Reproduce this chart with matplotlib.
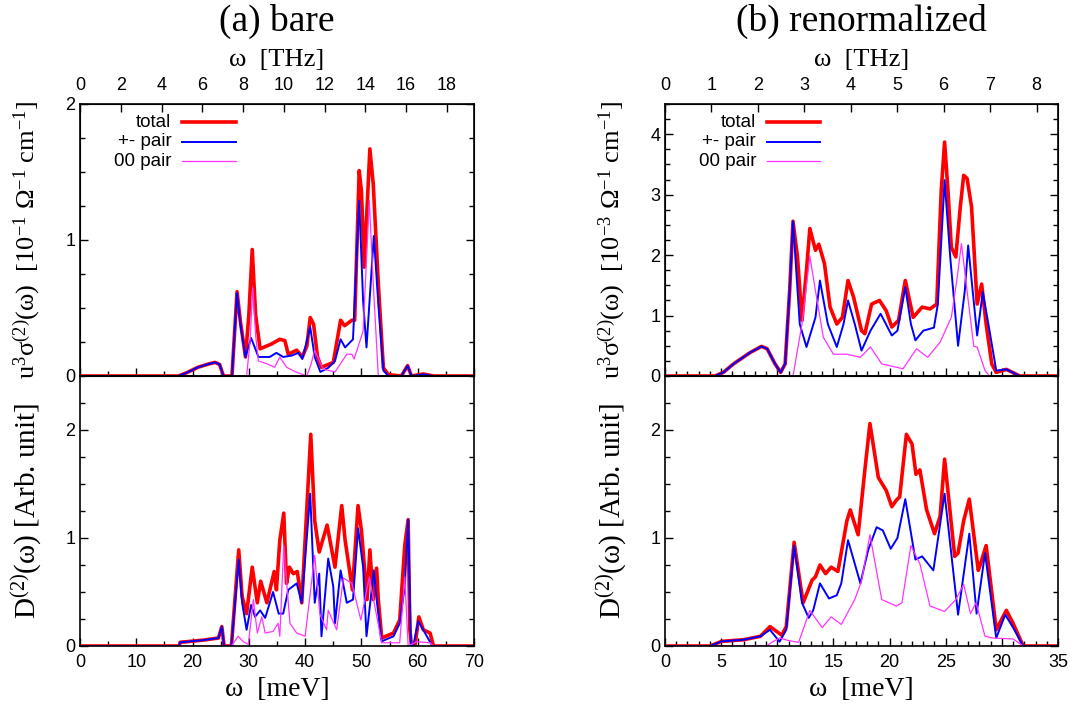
import numpy as np
import matplotlib
matplotlib.use("Agg")
from matplotlib import pyplot as plt
from matplotlib.ticker import MultipleLocator
from matplotlib.lines import Line2D

plt.rcParams['font.family'] = ['Liberation Sans', 'DejaVu Sans']
plt.rcParams['mathtext.fontset'] = 'custom'
plt.rcParams['mathtext.rm'] = 'Liberation Serif'
plt.rcParams['mathtext.it'] = 'Liberation Serif:italic'
plt.rcParams['mathtext.bf'] = 'Liberation Serif:bold'

SERIF = ['Liberation Serif', 'DejaVu Serif']
RED, BLUE, MAG = '#ff0000', '#0000ff', '#ff33ff'

# ---- (a) bare : conductivity, omega in meV ----
a_sig_tot_x = [0, 17.5, 19, 21, 23, 24, 24.8, 25.5, 27.0, 27.9, 28.5, 29.4, 30.0, 30.6, 31.2, 32.0, 34.0, 35.5,
               36.4, 37.0, 38.5, 39.5, 40.3, 40.9, 41.5, 42.2, 42.9, 45.0, 46.3, 47.0, 48.3, 48.8, 49.6, 50.0,
               50.5, 51.5, 52.1, 53.0, 53.9, 54.8, 57.1, 58.2, 58.9, 61.0, 62.8, 70]
a_sig_tot_y = [0, 0, 0.025, 0.065, 0.09, 0.10, 0.085, 0.0, 0.0, 0.62, 0.40, 0.14, 0.45, 0.93, 0.45, 0.20, 0.235,
               0.27, 0.26, 0.16, 0.19, 0.14, 0.22, 0.43, 0.38, 0.14, 0.064, 0.10, 0.41, 0.37, 0.41, 0.41, 1.51,
               1.36, 0.80, 1.67, 1.41, 0.68, 0.06, 0.01, 0.0, 0.076, 0.0, 0.015, 0.0, 0]
a_sig_pm_x = [0, 17.5, 19, 21, 23, 24, 24.8, 25.5, 27.0, 27.9, 28.5, 29.4, 30.4, 31.7, 33.7, 34.9, 36.1, 37.6,
              38.8, 39.5, 40.9, 41.7, 42.7, 44.1, 45.3, 46.3, 47.1, 48.5, 49.6, 50.3, 50.9, 52.2, 53.0, 53.9,
              54.8, 57.1, 58.2, 58.9, 61.0, 62.8, 70]
a_sig_pm_y = [0, 0, 0.025, 0.065, 0.09, 0.10, 0.085, 0.0, 0.0, 0.61, 0.38, 0.14, 0.28, 0.14, 0.14, 0.17, 0.14,
              0.15, 0.17, 0.125, 0.36, 0.14, 0.03, 0.06, 0.11, 0.27, 0.21, 0.27, 1.29, 0.55, 0.21, 1.03, 0.53,
              0.04, 0.0, 0.0, 0.076, 0.0, 0.012, 0.0, 0]
a_sig_00_x = [0, 29.6, 30.2, 30.7, 31.2, 31.7, 33.2, 34.6, 35.5, 36.7, 38.5, 40.3, 41.0, 41.7, 43.2, 45.3,
              47.4, 48.3, 48.7, 50.3, 51.4, 52.1, 53.0, 70]
a_sig_00_y = [0, 0, 0.25, 0.65, 0.30, 0.11, 0.09, 0.064, 0.14, 0.064, 0.027, 0.0, 0.08, 0.19, 0.05, 0.03,
              0.16, 0.16, 0.125, 0.33, 1.29, 0.68, 0.0, 0]

# ---- (a) bare : two-phonon DOS ----
a_dos_tot_x = [0, 17.6, 17.8, 20, 22, 24.6, 25.2, 25.6, 26.9, 28.2, 28.8, 29.6, 30.6, 31.5, 32.1, 33.2, 34.5,
               34.9, 35.5, 36.2, 36.7, 37.2, 37.9, 38.6, 39.4, 41.0, 41.7, 42.5, 43.9, 45.3, 46.5, 47.1, 48.4,
               49.4, 50.0, 51.0, 51.5, 52.1, 52.7, 53.0, 53.6, 55.7, 56.8, 57.7, 58.3, 58.6, 58.9, 59.5, 60.2,
               61.0, 62.2, 62.8, 70]
a_dos_tot_y = [0, 0, 0.034, 0.045, 0.055, 0.074, 0.18, 0.0, 0.0, 0.89, 0.46, 0.30, 0.73, 0.40, 0.60, 0.40, 0.69,
               0.52, 0.98, 1.23, 0.58, 0.73, 0.67, 0.69, 0.40, 1.96, 1.16, 0.87, 1.12, 0.73, 1.30, 0.98, 0.52,
               1.30, 1.07, 0.43, 0.89, 0.43, 0.72, 0.43, 0.074, 0.12, 0.24, 0.93, 1.17, 0.15, 0.0, 0.0, 0.27,
               0.15, 0.12, 0.0, 0]
a_dos_pm_x = [0, 17.6, 17.8, 20, 22, 24.6, 25.2, 25.6, 26.9, 28.2, 28.8, 29.6, 30.4, 31.1, 32.0, 32.9, 34.3,
              35.3, 36.1, 37.0, 38.5, 39.4, 40.9, 41.7, 42.5, 42.9, 44.1, 45.0, 45.3, 46.3, 47.4, 48.5, 49.4,
              50.3, 50.9, 52.2, 52.7, 53.6, 55.7, 56.8, 57.7, 58.3, 58.8, 59.2, 60.1, 61.3, 62.6, 70]
a_dos_pm_y = [0, 0, 0.034, 0.045, 0.055, 0.074, 0.18, 0.0, 0.0, 0.80, 0.40, 0.15, 0.38, 0.27, 0.33, 0.26, 0.50,
              0.30, 0.30, 0.52, 0.58, 0.40, 1.41, 0.40, 0.67, 0.09, 0.81, 0.55, 0.21, 0.70, 0.40, 0.43, 1.09,
              0.73, 0.09, 0.70, 0.43, 0.043, 0.09, 0.21, 0.55, 1.17, 0.0, 0.0, 0.23, 0.12, 0.0, 0]
a_dos_00_x = [0, 26.9, 28.1, 29.0, 29.9, 30.8, 31.5, 32.3, 32.9, 34.3, 35.2, 35.5, 36.2, 37.3, 38.5, 40.0,
              41.7, 42.6, 43.8, 44.1, 45.6, 46.8, 48.3, 49.9, 51.4, 53.6, 56.8, 57.7, 58.3, 59.8, 62.2, 62.8, 70]
a_dos_00_y = [0, 0, 0.09, 0.04, 0.015, 0.43, 0.12, 0.27, 0.12, 0.135, 0.21, 0.09, 0.93, 0.21, 0.12, 0.09,
              0.84, 0.30, 0.15, 0.33, 0.15, 0.63, 0.58, 0.24, 0.64, 0.03, 0.03, 0.64, 0.0, 0.04, 0.03, 0.0, 0]

# ---- (b) renormalized : conductivity ----
b_sig_tot_x = [0, 4.45, 5.2, 6.1, 7.6, 8.6, 9.1, 9.8, 10.3, 10.7, 11.1, 11.4, 11.8, 12.2, 12.6, 12.9, 13.4,
               13.7, 14.2, 14.7, 15.3, 15.8, 16.3, 16.8, 17.5, 17.8, 18.4, 19.1, 19.7, 20.2, 20.8, 21.4, 22.1,
               22.9, 23.6, 24.2, 24.6, 24.9, 25.2, 25.5, 25.9, 26.3, 26.6, 26.9, 27.3, 27.8, 28.2, 28.6, 29.1,
               29.5, 30.4, 31.6, 35]
b_sig_tot_y = [0, 0, 0.06, 0.2, 0.39, 0.49, 0.45, 0.2, 0.06, 0.2, 1.41, 2.56, 1.97, 0.92, 1.75, 2.44, 2.08,
               2.18, 1.86, 1.14, 0.86, 0.97, 1.58, 1.30, 0.75, 0.70, 1.19, 1.25, 1.08, 0.81, 0.92, 1.58, 0.97,
               1.14, 1.11, 1.19, 3.07, 3.87, 3.07, 2.13, 1.97, 2.80, 3.32, 3.27, 2.80, 1.19, 1.52, 0.86, 0.2,
               0.06, 0.11, 0.0, 0]
b_sig_pm_x = [0, 4.45, 5.2, 6.1, 7.6, 8.6, 9.1, 9.8, 10.3, 10.7, 11.1, 11.4, 12.0, 12.6, 13.4, 13.8, 14.5,
              15.3, 15.9, 16.3, 16.9, 17.5, 18.3, 19.2, 20.2, 20.7, 21.4, 21.9, 22.3, 23.0, 23.95, 24.3, 24.9,
              25.4, 26.1, 26.7, 27.0, 27.4, 27.8, 28.3, 28.8, 29.5, 30.4, 31.6, 35]
b_sig_pm_y = [0, 0, 0.06, 0.2, 0.39, 0.49, 0.45, 0.2, 0.06, 0.2, 1.41, 2.56, 0.86, 0.48, 0.97, 1.58, 0.86,
              0.48, 0.86, 1.25, 0.86, 0.42, 0.75, 1.03, 0.67, 0.75, 1.47, 0.86, 0.59, 0.75, 0.80, 1.19, 3.24,
              1.97, 0.50, 1.41, 2.16, 1.41, 0.67, 1.39, 0.86, 0.09, 0.11, 0.0, 0]
b_sig_00_x = [0, 11.4, 12.2, 12.9, 13.4, 14.1, 15.0, 16.2, 17.4, 18.3, 19.3, 21.2, 22.4, 23.4, 24.5, 25.5,
              26.0, 26.4, 26.9, 27.5, 27.8, 28.5, 28.9, 35]
b_sig_00_y = [0, 0, 0.86, 1.98, 1.41, 0.64, 0.36, 0.36, 0.31, 0.48, 0.20, 0.12, 0.45, 0.31, 0.56, 0.97,
              1.6, 2.19, 1.41, 0.49, 0.48, 0.09, 0.0, 0]

# ---- (b) renormalized : two-phonon DOS ----
b_dos_tot_x = [0, 4.0, 5.05, 7.0, 8.5, 9.35, 10.4, 10.8, 11.5, 12.3, 13.1, 13.4, 13.8, 14.3, 14.8, 15.4, 16.2,
               16.5, 17.2, 17.8, 18.25, 19.0, 19.7, 20.2, 20.6, 20.9, 21.5, 22.0, 22.35, 22.7, 23.3, 24.0, 24.5,
               24.9, 25.8, 26.1, 26.6, 27.1, 27.9, 28.1, 28.6, 29.5, 30.4, 31.0, 31.9, 35]
b_dos_tot_y = [0, 0, 0.043, 0.058, 0.09, 0.18, 0.10, 0.18, 0.96, 0.40, 0.61, 0.64, 0.75, 0.67, 0.73, 0.69, 1.16,
               1.26, 1.03, 1.63, 2.06, 1.56, 1.44, 1.29, 1.35, 1.38, 1.96, 1.87, 1.59, 1.63, 1.26, 1.04, 1.20,
               1.73, 0.83, 0.86, 1.16, 1.36, 0.70, 0.76, 0.93, 0.15, 0.33, 0.21, 0.0, 0]
b_dos_pm_x = [0, 4.0, 5.05, 7.0, 8.5, 9.35, 10.2, 10.8, 11.5, 12.2, 12.8, 13.2, 13.8, 14.6, 15.3, 15.7, 16.3,
              17.4, 18.1, 18.85, 19.4, 20.1, 20.7, 21.4, 22.3, 22.9, 23.9, 24.9, 26.1, 27.1, 27.75, 28.5, 29.5,
              30.3, 31.0, 31.9, 35]
b_dos_pm_y = [0, 0, 0.043, 0.058, 0.09, 0.15, 0.04, 0.15, 0.93, 0.40, 0.26, 0.33, 0.58, 0.44, 0.47, 0.58, 0.98,
              0.58, 0.89, 1.10, 1.07, 0.90, 1.00, 1.36, 0.80, 0.83, 0.70, 1.41, 0.29, 1.04, 0.30, 0.86, 0.074,
              0.29, 0.17, 0.0, 0]
b_dos_00_x = [0, 9.05, 9.6, 10.2, 11.0, 11.9, 12.9, 14.0, 14.8, 15.7, 16.9, 17.5, 18.25, 19.3, 20.6, 21.1,
              21.9, 22.7, 23.6, 24.9, 25.9, 26.6, 27.2, 27.7, 28.5, 29.2, 31.0, 31.9, 35]
b_dos_00_y = [0, 0, 0.04, 0.074, 0.05, 0.034, 0.33, 0.17, 0.27, 0.20, 0.43, 0.60, 1.03, 0.43, 0.37, 0.40,
              0.93, 0.76, 0.37, 0.32, 0.43, 0.57, 0.30, 0.40, 0.09, 0.074, 0.065, 0.0, 0]

titles = ['(a) bare', '(b) renormalized']
legend_labels = ['total', '+- pair', '00 pair']
sig_ylabels = [r'u$^{3}$σ$^{(2)}$(ω)  [10$^{-1}$ Ω$^{-1}$ cm$^{-1}$]',
               r'u$^{3}$σ$^{(2)}$(ω)  [10$^{-3}$ Ω$^{-1}$ cm$^{-1}$]']
dos_ylabel = r'D$^{(2)}$(ω) [Arb. unit]'
mev_max = [70, 35]
thz_max = [19.33, 35 / 4.1357]
mev_major = [10, 5]
mev_minor = [5, 1]
thz_major = [2, 1]
sig_ymax = [2.0, 4.5]


def draw(ax, series):
    (tx, ty), (px, py), (mx, my) = series
    ax.plot(tx, ty, color=RED, lw=2.6, solid_joinstyle='round')
    ax.plot(px, py, color=BLUE, lw=1.4)
    ax.plot(mx, my, color=MAG, lw=0.9)


def style(ax):
    for s in ax.spines.values():
        s.set_linewidth(1.2)
    ax.tick_params(which='both', direction='in', labelsize=13, right=True, width=1.0)
    ax.tick_params(which='major', length=6)
    ax.tick_params(which='minor', length=3.5)


fig = plt.figure(figsize=(10.76, 7.10), dpi=100)
lefts = [80 / 1076, 665 / 1076]
widths = [394 / 1076, 393 / 1076]

sig_data = [((a_sig_tot_x, a_sig_tot_y), (a_sig_pm_x, a_sig_pm_y), (a_sig_00_x, a_sig_00_y)),
            ((b_sig_tot_x, b_sig_tot_y), (b_sig_pm_x, b_sig_pm_y), (b_sig_00_x, b_sig_00_y))]
dos_data = [((a_dos_tot_x, a_dos_tot_y), (a_dos_pm_x, a_dos_pm_y), (a_dos_00_x, a_dos_00_y)),
            ((b_dos_tot_x, b_dos_tot_y), (b_dos_pm_x, b_dos_pm_y), (b_dos_00_x, b_dos_00_y))]

for i in range(2):
    ax1 = fig.add_axes([lefts[i], 1 - 376 / 710, widths[i], 272 / 710])
    ax2 = fig.add_axes([lefts[i], 1 - 646 / 710, widths[i], 270 / 710], sharex=ax1)

    draw(ax1, sig_data[i])
    draw(ax2, dos_data[i])

    for ax in (ax1, ax2):
        ax.set_xlim(0, mev_max[i])
        ax.xaxis.set_major_locator(MultipleLocator(mev_major[i]))
        ax.xaxis.set_minor_locator(MultipleLocator(mev_minor[i]))
        ax.yaxis.set_major_locator(MultipleLocator(1))
        ax.yaxis.set_minor_locator(MultipleLocator(0.25))
        style(ax)

    ax1.set_ylim(0, sig_ymax[i])
    ax2.set_ylim(0, 2.5)
    ax1.tick_params(which='both', top=False, labelbottom=False)
    ax2.tick_params(which='both', top=False)
    ax2.tick_params(axis='x', pad=6)

    # frequency axis on top
    axt = ax1.twiny()
    axt.set_xlim(0, thz_max[i])
    axt.xaxis.set_major_locator(MultipleLocator(thz_major[i]))
    axt.tick_params(direction='in', length=6, width=1.0, labelsize=13, pad=7)
    axt.set_xlabel('ω  [THz]', family=SERIF, fontsize=19, labelpad=8)

    ax2.set_xlabel('ω  [meV]', family=SERIF, fontsize=20, labelpad=4)
    ax1.set_ylabel(sig_ylabels[i], family=SERIF, fontsize=19, va='center')
    ax2.set_ylabel(dos_ylabel, family=SERIF, fontsize=21, va='center')
    ax1.yaxis.set_label_coords(-53 / 394, 0.5)
    ax2.yaxis.set_label_coords(-53 / 394, 0.5)

    fig.text(lefts[i] + widths[i] / 2, 1 - 21 / 710, titles[i], family=SERIF, fontsize=27,
             ha='center', va='center')

    # gnuplot-like key: right-aligned text followed by the sample line
    colors = [RED, BLUE, MAG]
    lws = [2.6, 1.4, 0.9]
    for k in range(3):
        yk = 0.932 - k * 0.071
        ax1.text(0.232, yk, legend_labels[k], transform=ax1.transAxes, ha='right', va='center',
                 fontsize=13.5)
        ax1.add_line(Line2D([0.260, 0.395], [yk, yk], transform=ax1.transAxes,
                            color=colors[k], lw=lws[k]))

fig.savefig('out.png', dpi=100)
